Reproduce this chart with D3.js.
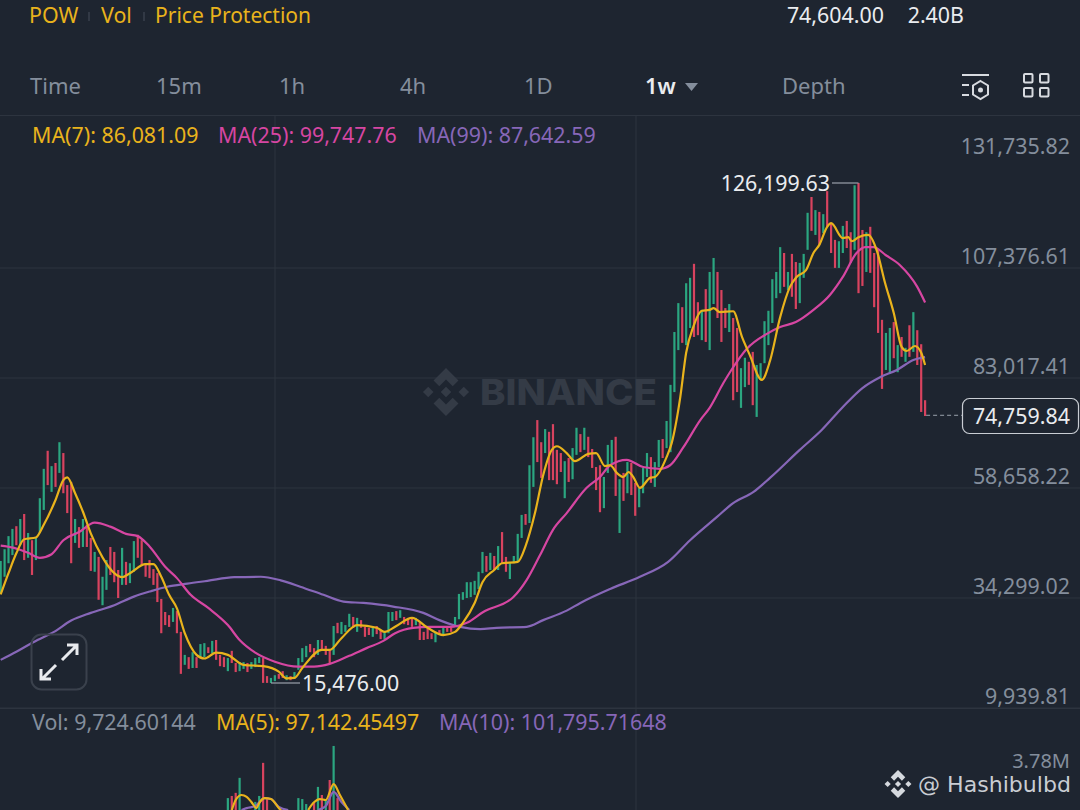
<!DOCTYPE html>
<html>
<head>
	<meta charset="utf-8">
	<title>BTC 1w chart</title>
	<style>
		html, body { margin: 0; padding: 0; background: #1e2530; overflow: hidden; }
		svg { display: block; }
		text { font-family: "Noto Sans", sans-serif; }
		.tick text { font-family: "Noto Sans", sans-serif; }
	</style>
</head>
<body>
	<div id="chart"></div>
	<script src="https://cdnjs.cloudflare.com/ajax/libs/d3/7.8.5/d3.min.js"></script>
	<script>
	// Weekly candles, prices in thousands
	var highs = [42.5,45.1,48.0,49.6,50.2,51.8,52.9,48.7,47.1,47.8,56.4,62.9,66.9,63.5,64.2,68.8,66.4,59.3,60.0,51.8,
		50.0,51.8,50.5,47.6,44.5,43.4,39.0,42.7,45.6,44.5,40.5,45.4,42.3,42.0,46.9,48.3,47.1,42.0,42.7,40.7,
		39.8,34.1,31.2,30.5,32.1,31.4,26.8,21.7,21.2,22.3,21.2,24.1,24.3,23.4,24.8,25.0,21.7,21.2,21.0,22.6,
		19.9,20.1,20.1,19.9,20.1,21.0,21.2,21.0,17.0,16.6,17.2,17.5,18.1,17.2,17.0,17.9,21.0,23.2,23.7,24.1,
		23.2,25.0,25.0,23.7,22.8,28.1,28.8,29.0,28.3,30.8,30.1,29.9,29.4,27.9,27.7,27.9,28.1,27.2,26.8,31.2,
		31.2,31.4,31.6,30.1,29.9,29.9,29.9,28.8,26.8,27.9,26.5,26.8,27.2,27.7,27.9,27.9,30.1,35.2,35.6,37.8,
		37.8,38.1,40.1,44.5,43.6,44.3,43.6,45.8,48.9,43.4,42.0,43.6,48.5,52.7,52.9,63.7,69.9,73.7,68.8,71.7,
		71.1,72.8,67.1,66.4,64.6,65.3,67.5,72.0,70.6,72.0,70.0,67.3,63.3,63.7,61.1,68.2,69.3,70.0,60.6,62.0,
		64.4,64.2,59.8,58.7,63.1,66.4,65.5,64.4,69.3,69.5,73.5,81.5,93.2,99.6,98.7,104.0,105.2,108.3,99.8,98.1,
		102.7,106.5,109.6,106.5,102.5,98.5,99.4,96.3,94.1,85.2,87.5,86.6,88.8,85.9,86.3,95.6,97.9,104.9,106.5,112.0,
		110.7,106.5,110.5,108.7,108.5,110.5,119.6,123.1,120.2,119.8,119.3,124.4,117.3,113.6,113.3,116.7,117.8,115.3,125.7,126.19963,
		115.8,115.3,116.5,110.7,111.4,95.9,93.0,94.1,95.4,90.3,92.1,89.7,94.7,97.6,93.6,90.5,78.1]
	var lows = [35.4,39.0,42.0,43.8,46.0,46.0,42.7,43.2,39.4,42.7,48.7,53.8,59.3,57.8,58.9,62.0,57.5,53.1,42.0,46.5,
		45.4,45.6,45.6,40.3,40.1,33.9,32.7,36.1,39.4,37.8,34.3,37.2,37.2,37.6,40.1,43.2,41.6,39.0,38.7,37.2,
		33.4,26.5,28.3,27.9,29.0,26.5,17.5,19.5,18.6,18.8,18.8,21.0,21.2,22.1,22.1,20.6,19.2,19.0,18.1,19.9,
		17.9,18.1,18.6,17.9,18.6,19.0,19.9,15.5,15.5,15.476,15.9,16.4,16.6,16.1,16.1,16.4,18.4,20.1,21.2,22.3,
		21.2,21.7,22.8,21.7,19.7,21.7,26.5,26.3,26.8,27.9,27.7,26.8,27.7,25.7,26.1,25.7,26.3,25.2,25.2,26.5,
		29.2,29.4,29.9,28.5,28.3,27.9,28.3,25.0,25.0,25.2,25.2,24.5,26.1,26.1,26.8,26.8,27.9,29.6,33.9,34.3,
		34.5,35.0,36.3,39.8,40.1,40.5,40.5,40.5,42.0,40.1,38.5,42.0,42.3,47.6,50.5,50.9,58.9,64.4,60.9,66.4,
		60.4,60.4,59.5,62.2,56.4,60.0,60.6,66.0,66.6,67.1,65.5,63.1,58.2,53.3,54.2,62.0,63.7,56.9,48.7,55.8,
		57.5,57.1,52.5,54.4,57.5,61.1,59.8,58.9,63.3,65.3,67.5,66.6,79.9,89.2,90.8,90.3,94.1,92.1,92.5,91.4,
		91.0,89.2,99.4,96.3,91.0,94.1,93.2,78.1,79.9,76.4,81.0,81.5,77.0,74.4,82.6,86.3,90.3,95.2,100.7,101.8,
		103.2,102.5,101.0,98.3,99.6,105.2,111.4,115.6,114.7,112.5,115.1,116.5,110.7,107.4,107.4,110.7,111.8,108.5,111.4,101.8,
		103.4,106.5,106.3,98.7,93.0,80.6,84.8,83.9,87.4,84.3,87.7,86.6,87.7,88.8,85.9,75.5,74.6]
	// 1 = up week (green), 0 = down week (red)
	var ups = [1,1,1,1,0,1,0,1,0,1,1,1,0,1,0,1,0,0,0,1,
		0,1,0,0,1,0,1,1,0,0,0,1,0,1,1,0,0,0,0,0,
		0,0,0,0,1,0,0,1,0,1,0,1,1,0,1,0,0,0,1,0,
		0,1,1,0,1,1,1,0,0,1,1,0,0,1,0,1,1,1,1,0,
		0,1,0,0,0,1,0,1,1,1,0,1,0,0,0,1,0,0,1,1,
		1,0,1,0,0,0,1,0,0,0,0,1,0,1,0,0,1,1,1,1,
		1,1,1,1,0,1,0,1,0,0,1,1,1,1,0,1,1,0,0,1,
		0,0,0,0,1,0,1,1,0,1,0,0,0,0,1,1,1,0,1,0,
		1,0,0,1,1,1,0,1,1,0,1,1,1,1,0,1,1,0,0,1,
		0,1,1,0,0,0,1,0,0,1,1,0,0,1,1,1,1,1,1,1,
		0,1,0,0,1,1,1,0,1,0,1,0,0,0,1,1,0,0,1,0,
		0,1,0,0,0,0,1,1,0,1,0,1,0,1,0,0,0]

	// Moving averages as [candle index, price in thousands]
	var ma7 = [[0,35.1],[2,39.8],[4,44.2],[6,47.3],[9,47.7],[11,50.5],[14,56.0],[16,60.4],[17,61.0],[19,57.5],[21,53.4],[23,48.6],[26,43.3],[29,39.8],[31,38.9],[33,39.8],[37,41.8],[39,41.8],[41,39.0],[43,35.0],[45,32.0],[47,26.5],[50,21.7],[52,20.9],[55,22.2],[58,21.7],[62,19.5],[67,19.2],[71,18.0],[73,16.5],[75,16.6],[77,18.8],[82,22.8],[84,22.8],[87,25.4],[91,28.3],[96,27.7],[98,26.8],[101,28.1],[105,29.9],[109,27.7],[113,26.1],[116,26.8],[118,28.8],[121,33.2],[123,37.8],[126,40.5],[128,42.0],[132,42.3],[134,45.8],[136.4,53.1],[138.5,61.5],[140.7,67.1],[142,67.9],[144.5,66.4],[146.6,64.6],[150,66.2],[152,66.4],[154.3,63.5],[155.6,63.7],[157.3,62.0],[159,61.1],[160.3,62.2],[161.5,61.1],[163.2,58.7],[165.8,60.9],[167,61.1],[170,65.5],[171.3,68.6],[173.5,78.8],[175,88.6],[176.8,94.3],[179,97.9],[181,98.1],[182,98.5],[183.6,97.6],[187,97.8],[189.3,92.0],[191.2,88.2],[194.3,82.6],[196.4,86.8],[199,96.5],[201.5,103.2],[203.2,105.4],[205.6,106.9],[207.5,110.7],[209,112.5],[211,116.5],[212,117.3],[215,114.0],[216.4,114.2],[217.3,113.3],[219,114.2],[221.5,114.7],[223.6,111.4],[225.8,104.0],[228,97.4],[230,89.9],[231.3,89.0],[233.4,90.1],[235,88.6],[236,85.9]]
	var ma25 = [[0,45.9],[3.4,45.4],[7,44.3],[10,43.2],[13,44.0],[16,47.1],[20,48.9],[24,51.0],[28,50.1],[32,48.5],[35,48.0],[38,45.7],[42,41.2],[45,38.7],[48.5,35.0],[53,32.1],[58,28.3],[61,25.0],[65,22.2],[70,20.2],[76,19.1],[80,19.1],[84,19.7],[89,21.5],[93.4,23.2],[97.7,24.8],[100.7,26.5],[105.3,27.7],[109.6,27.9],[114.7,27.9],[119,28.8],[123.2,31.2],[130.9,34.5],[134.3,38.3],[137.7,43.8],[141,49.4],[144.5,53.1],[149.6,58.7],[153,61.1],[155.6,63.7],[159.8,64.9],[164,63.3],[168.3,62.9],[170.9,63.7],[174.3,67.7],[178.6,73.7],[181,76.4],[184.5,81.9],[187,85.4],[190.5,89.5],[195.6,92.8],[199,94.3],[203,95.4],[207.5,98.1],[211.7,101.4],[215,105.4],[218.5,110.7],[220.7,112.0],[222.8,112.0],[226,110.2],[229.6,108.0],[234,103.2],[236,99.75]]
	var ma99 = [[0,20.6],[4,22.4],[9.4,25.0],[13.6,26.8],[18,29.3],[23,31.0],[29,32.7],[34,34.6],[38.3,35.8],[42.5,36.8],[47.7,37.5],[52.8,38.1],[59.6,38.9],[66.4,39.0],[71.5,38.2],[76.5,36.8],[82.4,35.0],[87.5,33.5],[92.6,33.2],[100.2,32.4],[107.9,31.0],[112,29.4],[117.3,27.9],[122.4,27.4],[126.6,27.7],[134.3,27.9],[138.5,29.4],[144.5,31.5],[148,33.2],[155.6,36.3],[163.2,39.0],[170.4,42.3],[176,47.1],[182.8,52.2],[187,55.3],[192.2,57.8],[196.4,60.9],[204,67.1],[209.6,71.5],[215,76.6],[220,80.8],[224.5,83.2],[228.8,84.8],[233,87.0],[236,87.64]]

	// Volume panel (only the tops show), millions
	var volIndex = [58,59,60,61,65,66,67,68,76,77,78,80,81,82,83,84,85,86]
	var volValues = [2.6,2.69,2.82,3.45,2.44,2.69,4.08,2.6,2.6,2.56,2.35,2.39,3.07,2.73,2.56,3.36,4.79,2.6]
	var volUps = [1,0,0,1,1,1,0,0,1,1,1,0,1,0,1,0,1,0]
	var volMa5 = [[59,2.1],[60,2.52],[61.5,2.73],[62.8,2.65],[64,2.44],[65.3,2.18],[66,2.39],[67.4,2.6],[69,2.56],[71,2.18],[72,2.0]]
	var volMa5b = [[78.5,2.1],[79.8,2.39],[81.5,2.56],[83,2.52],[85,3.19],[86.6,2.73],[88.7,2.1]]
	var volMa10 = [[61.5,2.1],[62.8,2.18],[65,2.27],[67.4,2.6],[69,2.56],[71,2.23],[73.4,2.1]]
	var volMa10b = [[81,2.1],[83,2.27],[85,2.86],[87,2.44],[89,2.1]]

	// Axis ticks and text
	var priceTicks = [131735.82, 107376.61, 83017.41, 58658.22, 34299.02, 9939.81]
	var tabs = ["Time", "15m", "1h", "4h", "1D", "1w", "Depth"]
	var tabX = [30, 156, 279, 400, 524, 645, 782]
	var lastPrice = 74759.84

	var width = 1080, height = 810
	var bg = "#1e2530", grid = "#2d343f", grey = "#848e9c", light = "#eaecef"
	var yellow = "#e9b31c", pink = "#d646a2", purple = "#8767b8"
	var green = "#2ba680", red = "#d8435f"
	var textSize = 21.4

	var svg = d3.select("#chart").append("svg")
		.attr("width", width)
		.attr("height", height)

	// Scales
	var x = d3.scaleLinear().domain([0, 236]).range([0.67, 925.1])
	var y = d3.scaleLinear().domain([9939.81, 131735.82]).range([708, 158])
	var yVol = d3.scaleLinear().domain([0, 3.78]).range([860, 770])

	// Grid
	svg.append("g").selectAll("line")
		.data(priceTicks.slice(1))
		.join("line")
		.attr("x1", 0).attr("x2", width)
		.attr("y1", function(d){ return y(d) }).attr("y2", function(d){ return y(d) })
		.attr("stroke", grid)
	svg.append("g").selectAll("line")
		.data([275, 636])
		.join("line")
		.attr("x1", function(d){ return d }).attr("x2", function(d){ return d })
		.attr("y1", 116).attr("y2", height)
		.attr("stroke", grid)
	svg.append("line").attr("x1", 0).attr("x2", width).attr("y1", 115.5).attr("y2", 115.5).attr("stroke", grid)

	// Binance diamond logo, used for watermark and footer
	var drawLogo = function(cx, cy, r, fill){
		var diamond = function(dx){
			return [[dx, -.22], [dx + .22, 0], [dx, .22], [dx - .22, 0]]
		}
		var shapes = [
			diamond(0), diamond(-.74), diamond(.74),
			[[0,-1],[.52,-.48],[.28,-.24],[0,-.52],[-.28,-.24],[-.52,-.48]],
			[[0,1],[.52,.48],[.28,.24],[0,.52],[-.28,.24],[-.52,.48]]
		]
		svg.append("g").selectAll("polygon")
			.data(shapes)
			.join("polygon")
			.attr("fill", fill)
			.attr("points", function(d){
				return d.map(function(p){ return (cx + p[0]*r) + "," + (cy + p[1]*r) }).join(" ")
			})
	}

	// Watermark sits under the candles
	drawLogo(446, 392, 24, "#343b46")
	svg.append("text").attr("x", 480).attr("y", 405)
		.attr("textLength", 177).attr("lengthAdjust", "spacingAndGlyphs")
		.style("font-family", "Inter").style("font-weight", 800).style("font-size", "36px")
		.attr("fill", "#343b46").text("BINANCE")

	// Candles
	svg.append("g").selectAll("rect")
		.data(d3.range(highs.length))
		.join("rect")
		.attr("x", function(i){ return x(i) - 1.1 })
		.attr("width", 2.2)
		.attr("y", function(i){ return y(highs[i]*1000) })
		.attr("height", function(i){ return y(lows[i]*1000) - y(highs[i]*1000) })
		.attr("fill", function(i){ return ups[i] ? green : red })

	// Moving averages
	var line = d3.line()
		.x(function(d){ return x(d[0]) })
		.y(function(d){ return y(d[1]*1000) })
		.curve(d3.curveMonotoneX)
	var drawLine = function(data, gen, color){
		svg.append("path").attr("d", gen(data))
			.attr("fill", "none").attr("stroke", color).attr("stroke-width", 2.2)
			.attr("stroke-linejoin", "round")
	}
	drawLine(ma99, line, purple)
	drawLine(ma25, line, pink)
	drawLine(ma7, line, yellow)

	// Price axis, labels sit just above their grid lines
	var priceAxis = d3.axisRight(y).tickValues(priceTicks).tickSize(0).tickFormat(d3.format(",.2f"))
	var axisG = svg.append("g").attr("transform", "translate(1070,0)").call(priceAxis)
	axisG.select(".domain").remove()
	axisG.selectAll("text")
		.attr("x", 0).attr("dy", -4.5)
		.attr("text-anchor", "end")
		.attr("fill", grey)
		.style("font-size", textSize + "px")

	// High and low markers
	var hiIdx = highs.indexOf(d3.max(highs)), loIdx = lows.indexOf(d3.min(lows))
	svg.append("path").attr("fill", "none").attr("stroke", "#9aa1ab").attr("stroke-width", 1.2)
		.attr("d", "M" + 832 + "," + y(highs[hiIdx]*1000) + "H" + x(hiIdx))
	svg.append("text").attr("x", 830).attr("y", y(highs[hiIdx]*1000) + 8)
		.attr("text-anchor", "end").attr("fill", light).style("font-size", textSize + "px")
		.text(d3.format(",.2f")(highs[hiIdx]*1000))
	svg.append("path").attr("fill", "none").attr("stroke", "#9aa1ab").attr("stroke-width", 1.2)
		.attr("d", "M" + x(loIdx) + "," + y(lows[loIdx]*1000) + "H" + 300)
	svg.append("text").attr("x", 302).attr("y", y(lows[loIdx]*1000) + 8)
		.attr("fill", light).style("font-size", textSize + "px")
		.text(d3.format(",.2f")(lows[loIdx]*1000))

	// Last price tag
	svg.append("line").attr("x1", x(236) + 1).attr("x2", 962)
		.attr("y1", y(lastPrice)).attr("y2", y(lastPrice))
		.attr("stroke", "#9aa1ab").attr("stroke-dasharray", "4 3")
	svg.append("rect").attr("x", 962.5).attr("y", 398.5).attr("width", 116).attr("height", 35).attr("rx", 7)
		.attr("fill", bg).attr("stroke", "#c9cdd3").attr("stroke-width", 1.2)
	svg.append("text").attr("x", 1070).attr("y", 424).attr("text-anchor", "end")
		.attr("fill", light).style("font-size", textSize + "px").text(d3.format(",.2f")(lastPrice))

	// Volume panel
	svg.append("line").attr("x1", 0).attr("x2", width).attr("y1", 708.5).attr("y2", 708.5).attr("stroke", grid)
	svg.append("g").selectAll("rect")
		.data(volIndex)
		.join("rect")
		.attr("x", function(d){ return x(d) - 1.1 })
		.attr("width", 2.2)
		.attr("y", function(d, i){ return yVol(volValues[i]) })
		.attr("height", function(d, i){ return yVol(0) - yVol(volValues[i]) })
		.attr("fill", function(d, i){ return volUps[i] ? green : red })
	var volLine = d3.line()
		.x(function(d){ return x(d[0]) })
		.y(function(d){ return yVol(d[1]) })
		.curve(d3.curveMonotoneX)
	drawLine(volMa10, volLine, purple)
	drawLine(volMa10b, volLine, purple)
	drawLine(volMa5, volLine, yellow)
	drawLine(volMa5b, volLine, yellow)

	var label = function(xPos, yPos, str, color, size, anchor){
		return svg.append("text").attr("x", xPos).attr("y", yPos)
			.attr("fill", color).attr("text-anchor", anchor || "start")
			.style("font-size", (size || textSize) + "px").text(str)
	}

	// Header
	label(29, 23, "POW", yellow)
	label(101, 23, "Vol", yellow)
	label(155, 23, "Price Protection", yellow, 21)
	svg.append("g").selectAll("line").data([89, 144]).join("line")
		.attr("x1", function(d){ return d }).attr("x2", function(d){ return d })
		.attr("y1", 12).attr("y2", 21).attr("stroke", "#3a414c").attr("stroke-width", 1.5)
	label(884, 23, "74,604.00", light, null, "end")
	label(964, 23, "2.40B", light, null, "end")

	// Tabs
	tabs.forEach(function(t, i){
		var on = t == "1w"
		label(tabX[i], 94, t, on ? light : grey, 22).style("font-weight", on ? 600 : 400)
	})
	svg.append("polygon").attr("points", "685,83 698,83 691.5,91").attr("fill", grey)

	// Indicator legends
	label(32, 143, "MA(7): 86,081.09", yellow)
	label(218, 143, "MA(25): 99,747.76", pink)
	label(417, 143, "MA(99): 87,642.59", purple)
	label(32, 730, "Vol: 9,724.60144", grey)
	label(216, 730, "MA(5): 97,142.45497", yellow)
	label(439, 730, "MA(10): 101,795.71648", purple)
	label(1070, 768, "3.78M", grey, 20, "end")

	// Toolbar icons
	var ic = svg.append("g").attr("fill", "none").attr("stroke", "#d8dbe0").attr("stroke-width", 2)
	ic.append("path").attr("d", "M962,75H989M962,85H969M962,95H969")
	ic.append("path").attr("d", "M980.5,81L988,85.5V94.5L980.5,99L973,94.5V85.5Z")
	ic.append("circle").attr("cx", 980.5).attr("cy", 90).attr("r", 1.5).attr("fill", "#d8dbe0")
	;[[1024, 74], [1040, 74], [1024, 88], [1040, 88]].forEach(function(p){
		ic.append("rect").attr("x", p[0]).attr("y", p[1]).attr("width", 8.5).attr("height", 8.5).attr("rx", 1)
	})

	// Expand button
	var btn = svg.append("g").attr("fill", "none")
	btn.append("rect").attr("x", 31.5).attr("y", 634.5).attr("width", 55).attr("height", 55).attr("rx", 10)
		.attr("stroke", "#3a414c").attr("stroke-width", 2)
	btn.append("path").attr("stroke", "#e8eaed").attr("stroke-width", 3)
		.attr("d", "M62,660L76,646M67,645H77V655M56,665L42,679M41,669V679H51")

	// Footer
	drawLogo(898, 784, 14, "#d5d9de")
	svg.append("text").attr("x", 918).attr("y", 792)
		.style("font-family", "DejaVu Sans").style("font-size", "21.5px")
		.attr("textLength", 153).attr("lengthAdjust", "spacingAndGlyphs")
		.attr("fill", "#c9cdd3").text("@ Hashibulbd")
	</script>
</body>
</html>
